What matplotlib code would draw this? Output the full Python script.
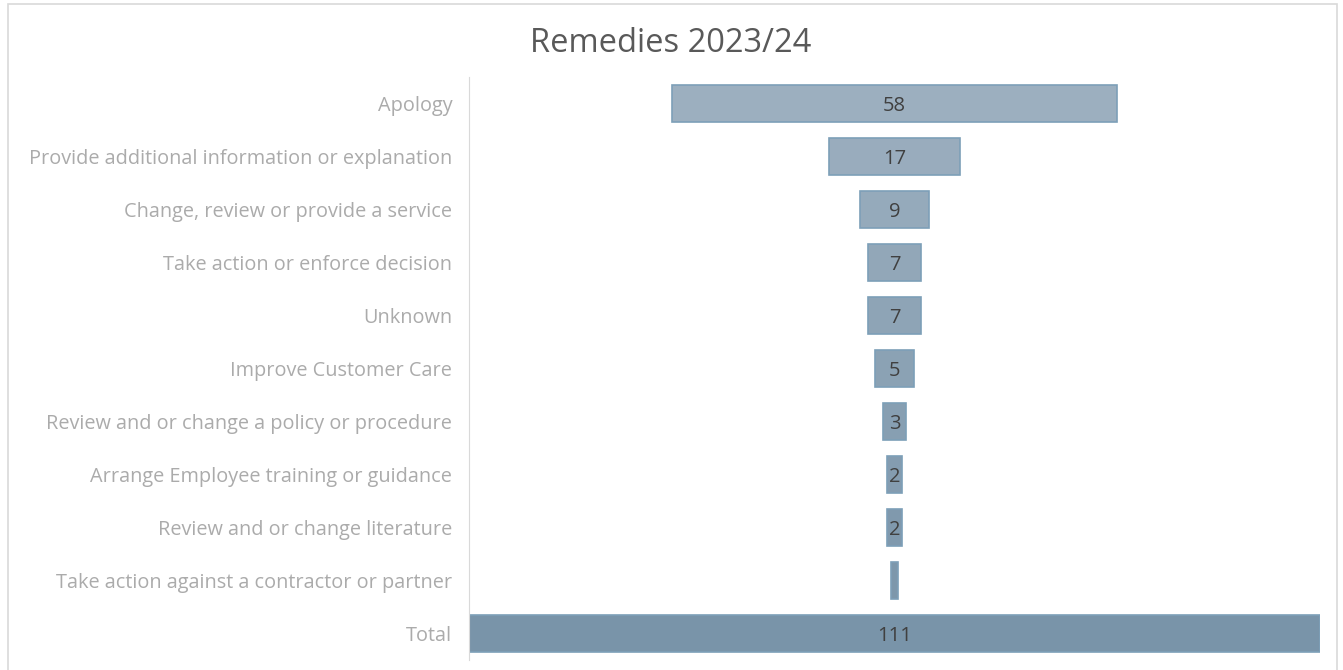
import matplotlib.pyplot as plt
from matplotlib.patches import Rectangle
import numpy as np

categories = [
    "Apology",
    "Provide additional information or explanation",
    "Change, review or provide a service",
    "Take action or enforce decision",
    "Unknown",
    "Improve Customer Care",
    "Review and or change a policy or procedure",
    "Arrange Employee training or guidance",
    "Review and or change literature",
    "Take action against a contractor or partner",
    "Total",
]
values = [58, 17, 9, 7, 7, 5, 3, 2, 2, 1, 111]
title = "Remedies 2023/24"

plt.rcParams['font.family'] = ['Open Sans', 'DejaVu Sans']

fig = plt.figure(figsize=(13.43, 6.70), dpi=100)
fig.patches.append(Rectangle((8 / 1343, -0.1), 1329 / 1343, 1.1 - 4 / 670,
                             transform=fig.transFigure, fill=False,
                             edgecolor='#d9d9d9', linewidth=1.2))

ax = fig.add_axes([469 / 1343, 10 / 670, 851 / 1343, 583 / 670])

n = len(values)
y = np.arange(n)
light = np.array([0x9c, 0xaf, 0xbf]) / 255
dark = np.array([0x79, 0x94, 0xa9]) / 255
for i, (v, yi) in enumerate(zip(values, y)):
    t = i / (n - 1)
    col = light * (1 - t) + dark * t
    ax.barh(yi, v, left=-v / 2, height=0.7, color=col,
            edgecolor='#7d9fb8', linewidth=1.2)
    if v > 1:
        ax.text(0, yi, str(v), ha='center', va='center_baseline',
                fontsize=14.5, color='#404040')

ax.set_ylim(n - 0.5, -0.5)
ax.set_xlim(-111 / 2, 111 / 2)
ax.set_yticks(y)
ax.set_yticklabels(categories, fontsize=14.3, color='#ababab')
ax.tick_params(axis='y', length=0, pad=12)
ax.set_xticks([])
for s in ['top', 'right', 'bottom']:
    ax.spines[s].set_visible(False)
ax.spines['left'].set_color('#d9d9d9')

fig.text(671 / 1343, 1 - 43 / 670, title, ha='center', va='center',
         fontsize=23.5, color='#595959')

fig.savefig('out.png', dpi=100)
